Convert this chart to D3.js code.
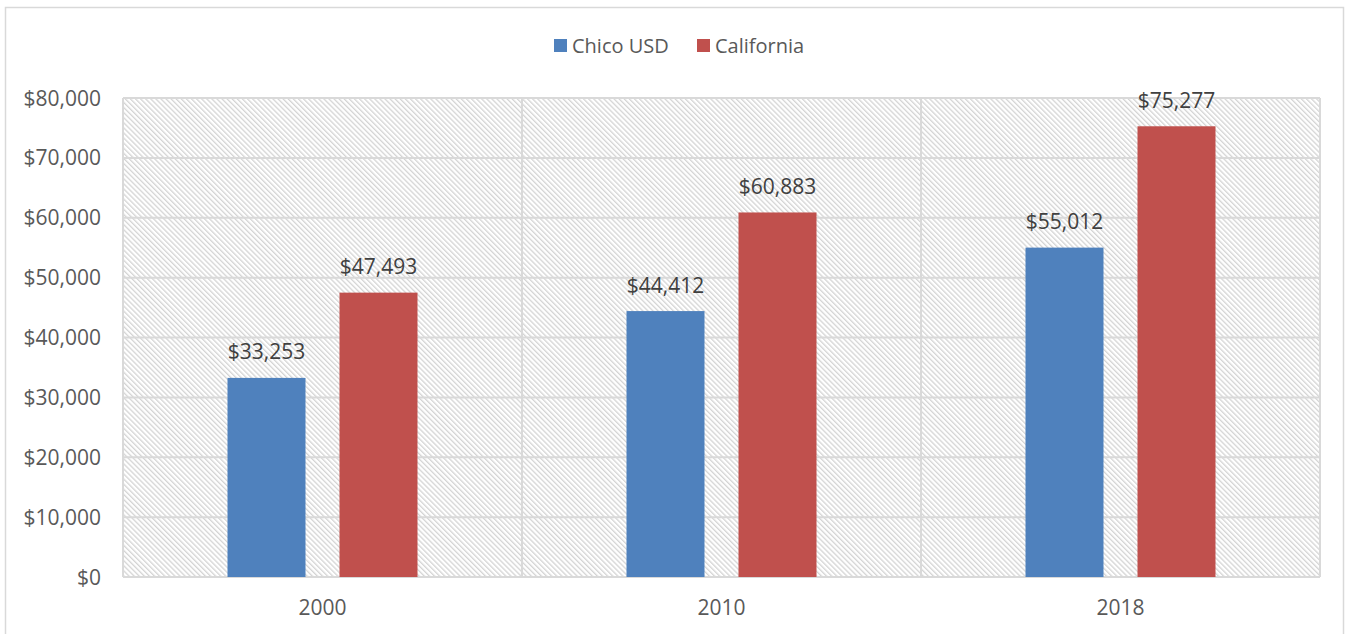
<!DOCTYPE html>
<html>
<head>
<meta charset="utf-8">
<script src="https://cdn.jsdelivr.net/npm/d3@7"></script>
<style>
  html, body { margin: 0; padding: 0; background: #fff; }
  svg { display: block; }
  text { font-family: "Open Sans", "Noto Sans", sans-serif; fill: #595959; }
</style>
</head>
<body>
<svg id="chart" width="1350" height="634"></svg>
<script>
// Median household income by year
const years = ["2000", "2010", "2018"];
const seriesNames = ["Chico USD", "California"];
const chicoValues = [33253, 44412, 55012];
const californiaValues = [47493, 60883, 75277];
const yTicks = [0, 10000, 20000, 30000, 40000, 50000, 60000, 70000, 80000];
const seriesColors = ["#4F81BD", "#C0504D"];

const svg = d3.select("#chart");
const plot = { left: 123, right: 1320, top: 98, bottom: 577 };

// Outer chart frame
svg.append("rect")
  .attr("x", 5.5).attr("y", 7.5)
  .attr("width", 1338).attr("height", 640)
  .attr("fill", "#fff").attr("stroke", "#d9d9d9").attr("stroke-width", 1.5);

// Diagonal hatch fill for the plot area
const defs = svg.append("defs");
const pat = defs.append("pattern")
  .attr("id", "hatch")
  .attr("patternUnits", "userSpaceOnUse")
  .attr("width", 3.6).attr("height", 10)
  .attr("patternTransform", "rotate(-45)");
pat.append("rect").attr("width", 3.6).attr("height", 10).attr("fill", "#fff");
pat.append("rect").attr("x", 0).attr("width", 1.3).attr("height", 10).attr("fill", "#d4d4d4");

const x0 = d3.scaleBand().domain(years).range([plot.left, plot.right]);
const y = d3.scaleLinear().domain([0, 80000]).range([plot.bottom, plot.top]);

svg.append("rect")
  .attr("x", plot.left).attr("y", plot.top)
  .attr("width", plot.right - plot.left).attr("height", plot.bottom - plot.top)
  .attr("fill", "url(#hatch)");

// Horizontal gridlines
svg.append("g").selectAll("line").data(yTicks).join("line")
  .attr("x1", plot.left).attr("x2", plot.right)
  .attr("y1", d => y(d)).attr("y2", d => y(d))
  .attr("stroke", "#d9d9d9").attr("stroke-width", 2);

// Vertical category separators
const seps = years.map(d => x0(d)).concat([plot.right]);
svg.append("g").selectAll("line").data(seps).join("line")
  .attr("x1", d => d).attr("x2", d => d)
  .attr("y1", plot.top).attr("y2", plot.bottom)
  .attr("stroke", "#d9d9d9").attr("stroke-width", 2);

// Y axis labels
const fmt = d => "$" + d3.format(",")(d);
svg.append("g").selectAll("text").data(yTicks).join("text")
  .attr("x", 101).attr("y", d => y(d))
  .attr("dy", "0.36em")
  .attr("text-anchor", "end")
  .attr("font-size", 21)
  .text(fmt);

// Bars: 78px wide, 34px apart, within each 399px category
const band = x0.bandwidth();
const x1 = d3.scaleBand().domain(seriesNames).range([0, band])
  .paddingInner(34 / 112).paddingOuter(0.933);
const rows = years.map((yr, i) => ({ year: yr, values: [chicoValues[i], californiaValues[i]] }));

const groups = svg.append("g").selectAll("g").data(rows).join("g")
  .attr("transform", d => `translate(${x0(d.year)},0)`);

const items = d => d.values.map((v, j) => ({ name: seriesNames[j], v, j }));

groups.selectAll("rect").data(items).join("rect")
  .attr("x", d => x1(d.name))
  .attr("y", d => y(d.v))
  .attr("width", x1.bandwidth())
  .attr("height", d => y(0) - y(d.v))
  .attr("fill", d => seriesColors[d.j]);

groups.selectAll("text.val").data(items).join("text")
  .attr("class", "val")
  .attr("x", d => x1(d.name) + x1.bandwidth() / 2)
  .attr("y", d => y(d.v) - 26)
  .attr("dy", "0.36em")
  .attr("text-anchor", "middle")
  .attr("font-size", 21)
  .style("fill", "#404040")
  .text(d => fmt(d.v));

// X axis labels
svg.append("g").selectAll("text").data(years).join("text")
  .attr("x", d => x0(d) + band / 2)
  .attr("y", 607)
  .attr("dy", "0.36em")
  .attr("text-anchor", "middle")
  .attr("font-size", 21)
  .text(d => d);

// Legend
const legend = svg.append("g");
const legendX = [554, 697];
seriesNames.forEach((name, i) => {
  legend.append("rect")
    .attr("x", legendX[i]).attr("y", 39)
    .attr("width", 13).attr("height", 13)
    .attr("fill", seriesColors[i]);
  legend.append("text")
    .attr("x", legendX[i] + 18).attr("y", 45.5)
    .attr("dy", "0.36em")
    .attr("font-size", 20)
    .text(name);
});
</script>
</body>
</html>
